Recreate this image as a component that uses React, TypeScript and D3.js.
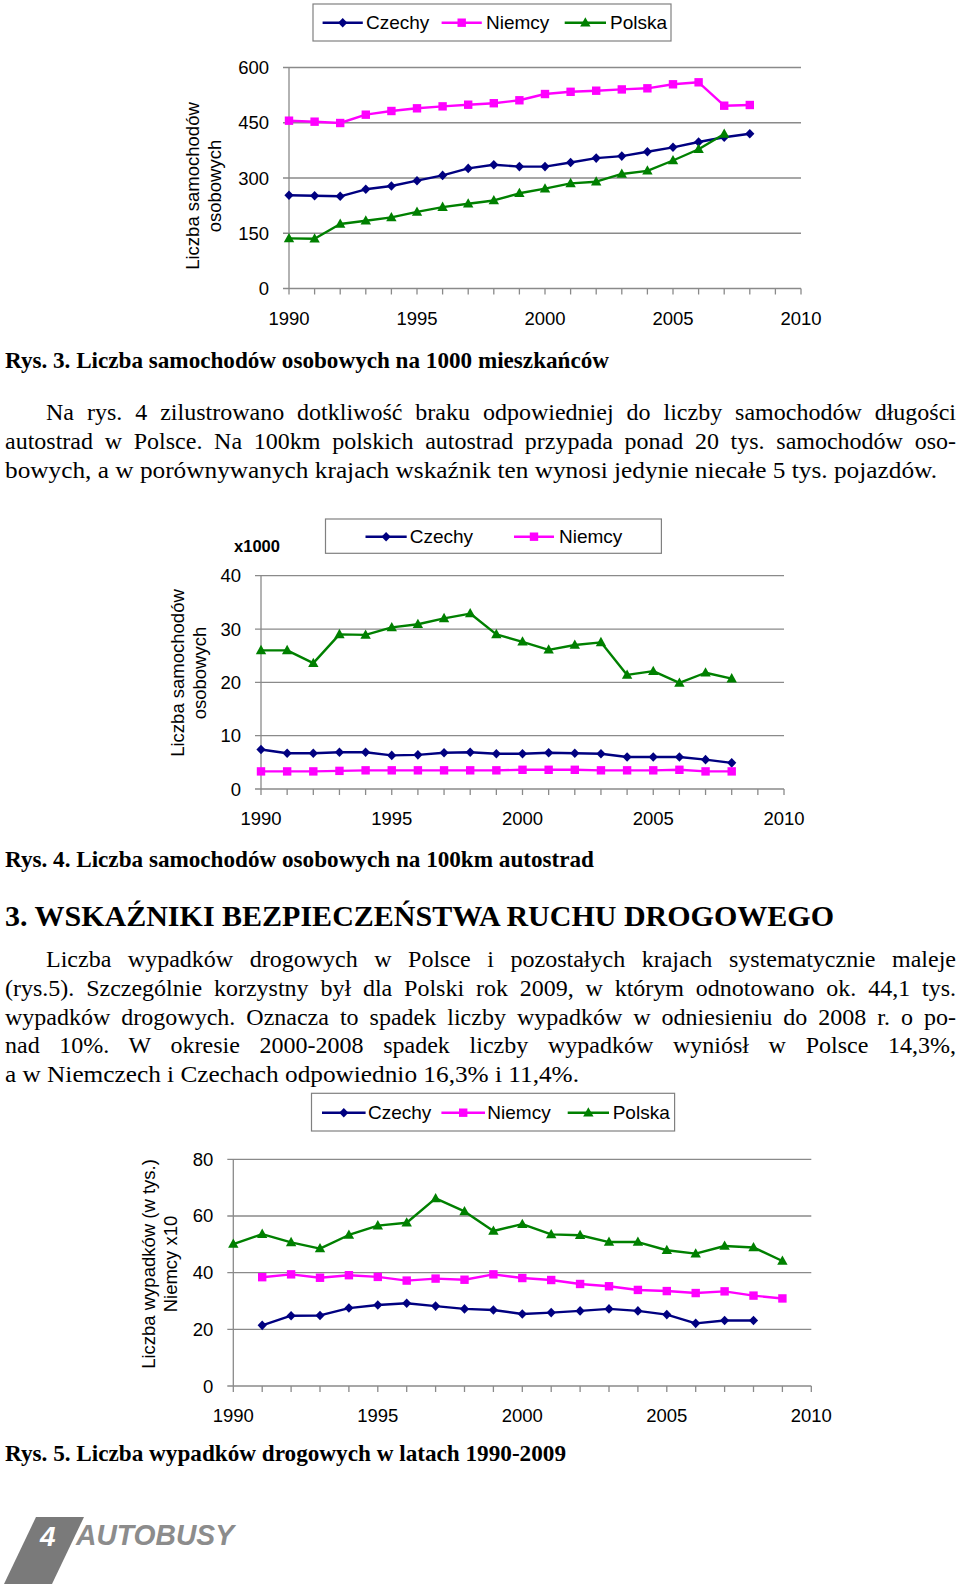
import React, { useLayoutEffect, useRef } from 'react';
import * as d3 from 'd3';

const SANS = 'Arial, "Liberation Sans", sans-serif';
const SERIF = '"Times New Roman", "Liberation Serif", serif';
const C_CZ = '#000080';
const C_DE = '#FF00FF';
const C_PL = '#008000';
const GRID = '#8a8a8a';

// ---------- Data: Rys. 3 (cars per 1000 inhabitants) ----------
const years1 = [1990, 1991, 1992, 1993, 1994, 1995, 1996, 1997, 1998, 1999, 2000, 2001, 2002, 2003, 2004, 2005, 2006, 2007, 2008];
const czechy1 = [253, 252, 250.3, 269.3, 278.3, 292.7, 307, 326, 336, 331, 331, 342, 354, 359.5, 371.4, 383.3, 397.7, 410.5, 420.3];
const niemcy1 = [455.6, 452.9, 449.3, 471.9, 481.9, 489.2, 494.5, 499, 503, 511, 528, 534, 537, 540.5, 543.5, 554.4, 559.8, 496.3, 498.2];
const polskaYears1 = [1990, 1991, 1992, 1993, 1994, 1995, 1996, 1997, 1998, 1999, 2000, 2001, 2002, 2003, 2004, 2005, 2006, 2007];
const polska1 = [136, 135, 175, 184, 193, 208, 221, 230, 239, 258.5, 271, 285.5, 290, 311, 319.5, 347.5, 378, 419.5];
const yTicks1 = [0, 150, 300, 450, 600];

// ---------- Data: Rys. 4 (cars per 100 km of motorway, x1000) ----------
const years2 = [1990, 1991, 1992, 1993, 1994, 1995, 1996, 1997, 1998, 1999, 2000, 2001, 2002, 2003, 2004, 2005, 2006, 2007, 2008];
const polska2 = [26.0, 26.0, 23.6, 29.0, 28.9, 30.3, 30.9, 32.0, 32.9, 29.0, 27.6, 26.1, 27.0, 27.5, 21.4, 22.1, 19.9, 21.8, 20.7];
const czechy2 = [7.4, 6.7, 6.7, 6.9, 6.9, 6.3, 6.4, 6.8, 6.9, 6.6, 6.6, 6.8, 6.7, 6.6, 6.0, 6.0, 6.0, 5.5, 4.9];
const niemcy2 = [3.3, 3.3, 3.3, 3.4, 3.5, 3.5, 3.5, 3.5, 3.5, 3.5, 3.6, 3.6, 3.6, 3.5, 3.5, 3.5, 3.6, 3.3, 3.3];
const yTicks2 = [0, 10, 20, 30, 40];

// ---------- Data: Rys. 5 (road accidents, thousands; Germany x10) ----------
const polskaYears3 = [1990, 1991, 1992, 1993, 1994, 1995, 1996, 1997, 1998, 1999, 2000, 2001, 2002, 2003, 2004, 2005, 2006, 2007, 2008, 2009];
const polska3 = [50.1, 53.6, 50.7, 48.5, 53.3, 56.6, 57.6, 66.2, 61.6, 54.7, 57.1, 53.5, 53.2, 50.8, 50.8, 47.9, 46.7, 49.4, 48.9, 44.1];
const niemcyYears3 = [1991, 1992, 1993, 1994, 1995, 1996, 1997, 1998, 1999, 2000, 2001, 2002, 2003, 2004, 2005, 2006, 2007, 2008, 2009];
const niemcy3 = [38.4, 39.4, 38.2, 39.1, 38.5, 37.2, 37.9, 37.5, 39.4, 38.1, 37.4, 36.0, 35.2, 33.9, 33.5, 32.8, 33.4, 31.9, 30.9];
const czechyYears3 = [1991, 1992, 1993, 1994, 1995, 1996, 1997, 1998, 1999, 2000, 2001, 2002, 2003, 2004, 2005, 2006, 2007, 2008];
const czechy3 = [21.4, 24.8, 24.9, 27.5, 28.6, 29.2, 28.2, 27.2, 26.8, 25.4, 25.9, 26.5, 27.2, 26.5, 25.2, 22.1, 23.1, 23.1];
const yTicks3 = [0, 20, 40, 60, 80];

const xTickLabels = [1990, 1995, 2000, 2005, 2010];
const allYears = d3.range(1990, 2011);

// ---------- Texts ----------
const caption3 = 'Rys. 3. Liczba samochodów osobowych na 1000 mieszkańców';
const para1 = [
  'Na rys. 4 zilustrowano dotkliwość braku odpowiedniej do liczby samochodów długości',
  'autostrad w Polsce. Na 100km polskich autostrad przypada ponad 20 tys. samochodów oso-',
  'bowych, a w porównywanych krajach wskaźnik ten wynosi jedynie niecałe 5 tys. pojazdów.',
];
const caption4 = 'Rys. 4. Liczba samochodów osobowych na 100km autostrad';
const heading = '3.  WSKAŹNIKI BEZPIECZEŃSTWA RUCHU DROGOWEGO';
const para2 = [
  'Liczba wypadków drogowych w Polsce i pozostałych krajach systematycznie maleje',
  '(rys.5). Szczególnie korzystny był dla Polski rok 2009, w którym odnotowano ok. 44,1 tys.',
  'wypadków drogowych. Oznacza to spadek liczby wypadków w odniesieniu do 2008 r. o po-',
  'nad 10%. W okresie 2000-2008 spadek liczby wypadków wyniósł w Polsce 14,3%,',
  'a w Niemczech i Czechach odpowiednio 16,3% i 11,4%.',
];
const caption5 = 'Rys. 5. Liczba wypadków drogowych w latach 1990-2009';

type MarkerType = 'diamond' | 'square' | 'triangle';

function Marker({ type, x, y, color }: { type: MarkerType; x: number; y: number; color: string }) {
  if (type === 'diamond')
    return <path d={`M${x},${y - 4.8}L${x + 4.6},${y}L${x},${y + 4.8}L${x - 4.6},${y}Z`} fill={color} />;
  if (type === 'square') return <rect x={x - 4.2} y={y - 4.2} width={8.4} height={8.4} fill={color} />;
  return <path d={`M${x},${y - 5.5}L${x + 5.2},${y + 3.8}L${x - 5.2},${y + 3.8}Z`} fill={color} />;
}

interface Series {
  years: number[];
  values: number[];
  color: string;
  marker: MarkerType;
}

interface Plot {
  left: number;
  right: number;
  top: number;
  bottom: number;
}

function LineChart({ plot, yMax, yTicks, series }: { plot: Plot; yMax: number; yTicks: number[]; series: Series[] }) {
  const x = d3.scaleLinear().domain([1990, 2010]).range([plot.left, plot.right]);
  const y = d3.scaleLinear().domain([0, yMax]).range([plot.bottom, plot.top]);
  return (
    <g>
      {yTicks.map((v) => (
        <line key={'g' + v} x1={plot.left - 6} x2={plot.right} y1={y(v)} y2={y(v)} stroke={GRID} strokeWidth={1.3} />
      ))}
      <line x1={plot.left} x2={plot.left} y1={plot.bottom} y2={plot.top} stroke={GRID} strokeWidth={1.3} />
      {allYears.map((yr) => (
        <line key={'t' + yr} x1={x(yr)} x2={x(yr)} y1={plot.bottom} y2={plot.bottom + 6} stroke={GRID} strokeWidth={1.3} />
      ))}
      {yTicks.map((v) => (
        <text key={'l' + v} x={plot.left - 20} y={y(v)} textAnchor="end" dominantBaseline="central" fontFamily={SANS} fontSize={18.5} fill="#000">
          {v}
        </text>
      ))}
      {xTickLabels.map((yr) => (
        <text key={'x' + yr} x={x(yr)} y={plot.bottom + 36} textAnchor="middle" fontFamily={SANS} fontSize={18.5} fill="#000">
          {yr}
        </text>
      ))}
      {series.map((s, i) => {
        const pts = s.years.map((yr, j) => [yr, s.values[j]] as [number, number]);
        const path = d3.line<[number, number]>().x((d) => x(d[0])).y((d) => y(d[1]))(pts) || '';
        return (
          <g key={'s' + i}>
            <path d={path} fill="none" stroke={s.color} strokeWidth={2.4} strokeLinejoin="round" />
            {pts.map((d, j) => (
              <Marker key={j} type={s.marker} x={x(d[0])} y={y(d[1])} color={s.color} />
            ))}
          </g>
        );
      })}
    </g>
  );
}

interface LegendItem {
  label: string;
  color: string;
  marker: MarkerType;
  x1: number;
  x2: number;
  tx: number;
}

function Legend({ box, cy, items }: { box: [number, number, number, number]; cy: number; items: LegendItem[] }) {
  return (
    <g>
      <rect x={box[0]} y={box[1]} width={box[2] - box[0]} height={box[3] - box[1]} fill="#fff" stroke="#808080" strokeWidth={1.2} />
      {items.map((it) => (
        <g key={it.label}>
          <line x1={it.x1} x2={it.x2} y1={cy} y2={cy} stroke={it.color} strokeWidth={2.4} />
          <Marker type={it.marker} x={(it.x1 + it.x2) / 2} y={cy} color={it.color} />
          <text x={it.tx} y={cy} dominantBaseline="central" fontFamily={SANS} fontSize={19} fill="#000">
            {it.label}
          </text>
        </g>
      ))}
    </g>
  );
}

function YTitle({ x, cy, text }: { x: number; cy: number; text: string }) {
  return (
    <text
      transform={`translate(${x},${cy}) rotate(-90)`}
      textAnchor="middle"
      dominantBaseline="central"
      fontFamily={SANS}
      fontSize={18.5}
      fill="#000"
    >
      {text}
    </text>
  );
}

function SerifLine({
  x,
  y,
  width,
  text,
  size,
  bold,
  justify,
}: {
  x: number;
  y: number;
  width: number;
  text: string;
  size: number;
  bold?: boolean;
  justify?: boolean;
}) {
  const ref = useRef<SVGTextElement>(null);
  useLayoutEffect(() => {
    const el = ref.current;
    if (!el || !justify) return;
    el.style.wordSpacing = '0px';
    const w = el.getComputedTextLength();
    const spaces = (text.match(/ /g) || []).length;
    if (spaces > 0) el.style.wordSpacing = `${(width - w) / spaces}px`;
  }, [text, width, justify]);
  return (
    <text
      ref={ref}
      x={x}
      y={y}
      fontFamily={SERIF}
      fontSize={size}
      fontWeight={bold ? 'bold' : 'normal'}
      fill="#000"
      textLength={justify ? undefined : width}
      lengthAdjust={justify ? undefined : 'spacingAndGlyphs'}
    >
      {text}
    </text>
  );
}

export default function App() {
  return (
    <svg
      width={960}
      height={1584}
      viewBox="0 0 960 1584"
      style={{ position: 'absolute', left: 0, top: 0, background: '#fff' }}
    >
      <rect x={0} y={0} width={960} height={1584} fill="#fff" />

      {/* ---------- Rys. 3 ---------- */}
      <Legend
        box={[313, 4, 671, 41]}
        cy={22.7}
        items={[
          { label: 'Czechy', color: C_CZ, marker: 'diamond', x1: 322.6, x2: 362.8, tx: 366 },
          { label: 'Niemcy', color: C_DE, marker: 'square', x1: 441.6, x2: 481.8, tx: 486 },
          { label: 'Polska', color: C_PL, marker: 'triangle', x1: 564.7, x2: 606, tx: 610 },
        ]}
      />
      <YTitle x={192} cy={186} text="Liczba samochodów" />
      <YTitle x={214} cy={186} text="osobowych" />
      <LineChart
        plot={{ left: 289, right: 801, top: 67.5, bottom: 288.5 }}
        yMax={600}
        yTicks={yTicks1}
        series={[
          { years: years1, values: czechy1, color: C_CZ, marker: 'diamond' },
          { years: years1, values: niemcy1, color: C_DE, marker: 'square' },
          { years: polskaYears1, values: polska1, color: C_PL, marker: 'triangle' },
        ]}
      />
      <SerifLine x={5} y={368} width={604} text={caption3} size={23} bold />

      {para1.map((t, i) => (
        <SerifLine
          key={t}
          x={i === 0 ? 46 : 5}
          y={420 + i * 29}
          width={i === 0 ? 910 : i === 1 ? 951 : 932}
          text={t}
          size={24}
          justify={i < 2}
        />
      ))}

      {/* ---------- Rys. 4 ---------- */}
      <text x={257} y={546} textAnchor="middle" dominantBaseline="central" fontFamily={SANS} fontSize={16.5} fontWeight="bold" fill="#000">
        x1000
      </text>
      <Legend
        box={[325.5, 519, 661.4, 553.3]}
        cy={536.7}
        items={[
          { label: 'Czechy', color: C_CZ, marker: 'diamond', x1: 365.5, x2: 406.7, tx: 409.7 },
          { label: 'Niemcy', color: C_DE, marker: 'square', x1: 514, x2: 554, tx: 559 },
        ]}
      />
      <YTitle x={177} cy={673} text="Liczba samochodów" />
      <YTitle x={199} cy={673} text="osobowych" />
      <LineChart
        plot={{ left: 261, right: 784, top: 575.7, bottom: 789 }}
        yMax={40}
        yTicks={yTicks2}
        series={[
          { years: years2, values: polska2, color: C_PL, marker: 'triangle' },
          { years: years2, values: czechy2, color: C_CZ, marker: 'diamond' },
          { years: years2, values: niemcy2, color: C_DE, marker: 'square' },
        ]}
      />
      <SerifLine x={5} y={867} width={589} text={caption4} size={23} bold />

      <SerifLine x={5} y={926} width={829} text={heading} size={30} bold />

      {para2.map((t, i) => (
        <SerifLine
          key={t}
          x={i === 0 ? 46 : 5}
          y={967 + i * 28.8}
          width={i === 0 ? 910 : i < 4 ? 951 : 574}
          text={t}
          size={24}
          justify={i < 4}
        />
      ))}

      {/* ---------- Rys. 5 ---------- */}
      <Legend
        box={[311.5, 1093.3, 674.6, 1131]}
        cy={1112.7}
        items={[
          { label: 'Czechy', color: C_CZ, marker: 'diamond', x1: 322, x2: 365.6, tx: 368 },
          { label: 'Niemcy', color: C_DE, marker: 'square', x1: 441.4, x2: 485, tx: 487.3 },
          { label: 'Polska', color: C_PL, marker: 'triangle', x1: 567.7, x2: 609, tx: 612.7 },
        ]}
      />
      <YTitle x={148} cy={1264} text="Liczba wypadków (w tys.)" />
      <YTitle x={170} cy={1264} text="Niemcy x10" />
      <LineChart
        plot={{ left: 233.3, right: 811.3, top: 1159.3, bottom: 1386 }}
        yMax={80}
        yTicks={yTicks3}
        series={[
          { years: polskaYears3, values: polska3, color: C_PL, marker: 'triangle' },
          { years: niemcyYears3, values: niemcy3, color: C_DE, marker: 'square' },
          { years: czechyYears3, values: czechy3, color: C_CZ, marker: 'diamond' },
        ]}
      />
      <SerifLine x={5} y={1461} width={561} text={caption5} size={23} bold />

      {/* ---------- Logo ---------- */}
      <path d="M36,1517L84,1517L52,1584L4,1584Z" fill="#7a7a7a" />
      <text x={40} y={1546} fontFamily={SANS} fontSize={28} fontWeight="bold" fontStyle="italic" fill="#fff">
        4
      </text>
      <text
        x={76}
        y={1545}
        fontFamily={SANS}
        fontSize={29}
        fontWeight="bold"
        fontStyle="italic"
        fill="#8c8c8c"
        textLength={158}
        lengthAdjust="spacingAndGlyphs"
      >
        AUTOBUSY
      </text>
    </svg>
  );
}
